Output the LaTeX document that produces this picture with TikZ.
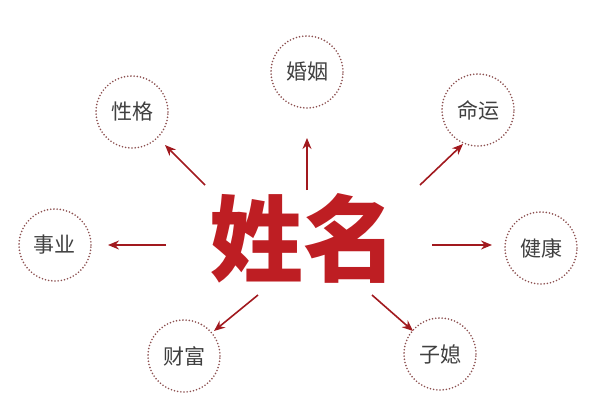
\documentclass[tikz,border=0pt]{standalone}
\usepackage{fontspec}
\newfontfamily\cjk{Noto Sans CJK SC}
\newfontfamily\cjkbold{Noto Sans CJK SC Black}
\usetikzlibrary{arrows.meta}
\definecolor{namered}{RGB}{190,30,35}
\definecolor{ringred}{RGB}{140,80,80}
\tikzset{
  ring/.style={circle, draw=ringred, line width=1.8pt, line cap=round, dash pattern=on 0pt off 3.2pt, minimum size=72pt, inner sep=0pt, font=\cjk\fontsize{21}{21}\selectfont, text=black!75},
  pointer/.style={-{Stealth[length=11pt,width=9pt]}, draw=namered!85!black, line width=1.6pt}
}
\begin{document}
\begin{tikzpicture}[x=1pt,y=-1pt]
  \useasboundingbox (0,0) rectangle (608,416);
  \node[font=\cjkbold\fontsize{94}{94}\selectfont, text=namered] (name) at (303,238) {姓名};
  \node[ring] (marriage) at (307,72) {婚姻};
  \node[ring] (nature) at (132,112) {性格};
  \node[ring] (fate) at (478,110) {命运};
  \node[ring] (career) at (55,245) {事业};
  \node[ring] (health) at (541,248) {健康};
  \node[ring] (wealth) at (184,356) {财富};
  \node[ring] (child) at (440,354) {子媳};
  \coordinate (nu) at (307,190);
  \coordinate (nl) at (205,185);
  \coordinate (nr) at (420,185);
  \coordinate (wl) at (166,245);
  \coordinate (er) at (432,245);
  \coordinate (sl) at (258,295);
  \coordinate (sr) at (372,295);
  \draw[pointer] (nu) -- (307,138);
  \draw[pointer] (nl) -- (165,145);
  \draw[pointer] (nr) -- (463,144);
  \draw[pointer] (wl) -- (108,245);
  \draw[pointer] (er) -- (492,245);
  \draw[pointer] (sl) -- (214,331);
  \draw[pointer] (sr) -- (413,331);
\end{tikzpicture}
\end{document}
